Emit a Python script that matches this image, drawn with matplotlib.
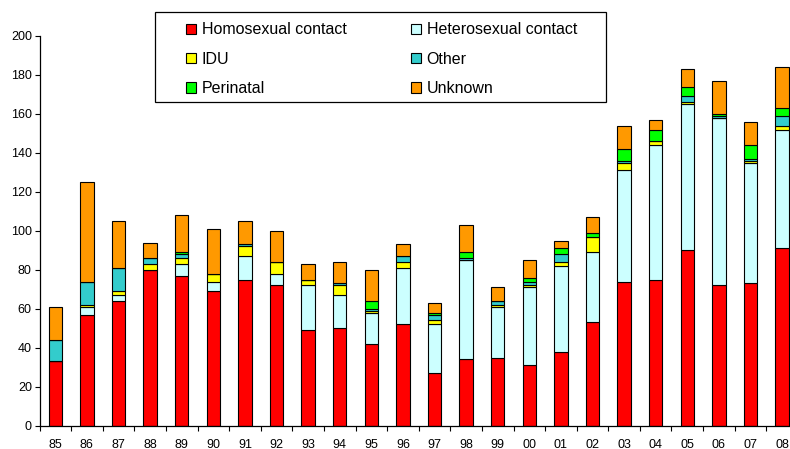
import matplotlib
matplotlib.use('Agg')
import matplotlib.pyplot as plt
import numpy as np
from matplotlib.patches import Rectangle, Patch

plt.rcParams['font.family'] = ['Liberation Sans', 'DejaVu Sans']

years = ['85', '86', '87', '88', '89', '90', '91', '92', '93', '94', '95', '96',
         '97', '98', '99', '00', '01', '02', '03', '04', '05', '06', '07', '08']
homosexual = [33, 57, 64, 80, 77, 69, 75, 72, 49, 50, 42, 52, 27, 34, 35, 31, 38, 53, 74, 75, 90, 72, 73, 91]
heterosexual = [0, 4, 3, 0, 6, 5, 12, 6, 23, 17, 16, 29, 25, 51, 26, 40, 44, 36, 57, 69, 75, 86, 62, 61]
idu = [0, 1, 2, 3, 3, 4, 5, 6, 3, 5, 1, 3, 2, 0, 1, 1, 2, 8, 4, 2, 1, 0, 1, 2]
other = [11, 12, 12, 3, 2, 0, 1, 0, 0, 1, 1, 3, 3, 1, 2, 2, 4, 0, 1, 0, 3, 1, 1, 5]
perinatal = [0, 0, 0, 0, 1, 0, 0, 0, 0, 0, 4, 0, 1, 3, 0, 2, 3, 2, 6, 6, 5, 1, 7, 4]
unknown = [17, 51, 24, 8, 19, 23, 12, 16, 8, 11, 16, 6, 5, 14, 7, 9, 4, 8, 12, 5, 9, 17, 12, 21]

series = [('Homosexual contact', homosexual, '#FF0000'),
          ('Heterosexual contact', heterosexual, '#CCFFFF'),
          ('IDU', idu, '#FFFF00'),
          ('Other', other, '#33CCCC'),
          ('Perinatal', perinatal, '#00FF00'),
          ('Unknown', unknown, '#FF9900')]

fig = plt.figure(figsize=(7.9, 4.49), dpi=100)
ax = fig.add_axes([39.5 / 790, 23.3 / 449, 758.4 / 790, 389.7 / 449])

x = np.arange(len(years))
bottom = np.zeros(len(years))
for name, vals, col in series:
    vals = np.array(vals, dtype=float)
    ax.bar(x, vals, width=0.42, bottom=bottom, color=col, edgecolor='black', linewidth=0.8)
    bottom += vals

ax.set_xlim(-0.5, len(years) - 0.5)
ax.set_ylim(0, 200)
ax.set_yticks(range(0, 201, 20))
ax.set_xticks(x)
ax.set_xticklabels(years)
ax.set_xticks(np.arange(-0.5, len(years), 1), minor=True)
ax.tick_params(axis='x', which='major', length=0, pad=9.5, labelsize=9)
ax.tick_params(axis='x', which='minor', length=3.5, width=0.8, direction='out')
ax.tick_params(axis='y', length=3.5, width=0.8, pad=2, labelsize=9)
for s in ['top', 'right']:
    ax.spines[s].set_visible(False)
for s in ['left', 'bottom']:
    ax.spines[s].set_linewidth(0.9)
    ax.spines[s].set_color('black')

# legend box drawn by hand so the padding matches
fig.patches.append(Rectangle((155 / 790, 1 - 102 / 449), 451 / 790, 90 / 449,
                             transform=fig.transFigure, facecolor='white',
                             edgecolor='black', linewidth=0.9, zorder=5))
order = [0, 2, 4, 1, 3, 5]
handles = [Patch(facecolor=series[i][2], edgecolor='black', linewidth=0.8) for i in order]
labels = [series[i][0] for i in order]
leg = fig.legend(handles, labels, ncol=2, loc='upper left',
                 bbox_to_anchor=(186 / 790, 1 - 22.5 / 449), frameon=False,
                 fontsize=11.5, handlelength=0.625, handleheight=0.625,
                 handletextpad=0.375, columnspacing=4.0, labelspacing=0.9,
                 borderpad=0, borderaxespad=0)
leg.set_zorder(6)

fig.savefig('out.png', dpi=100)
